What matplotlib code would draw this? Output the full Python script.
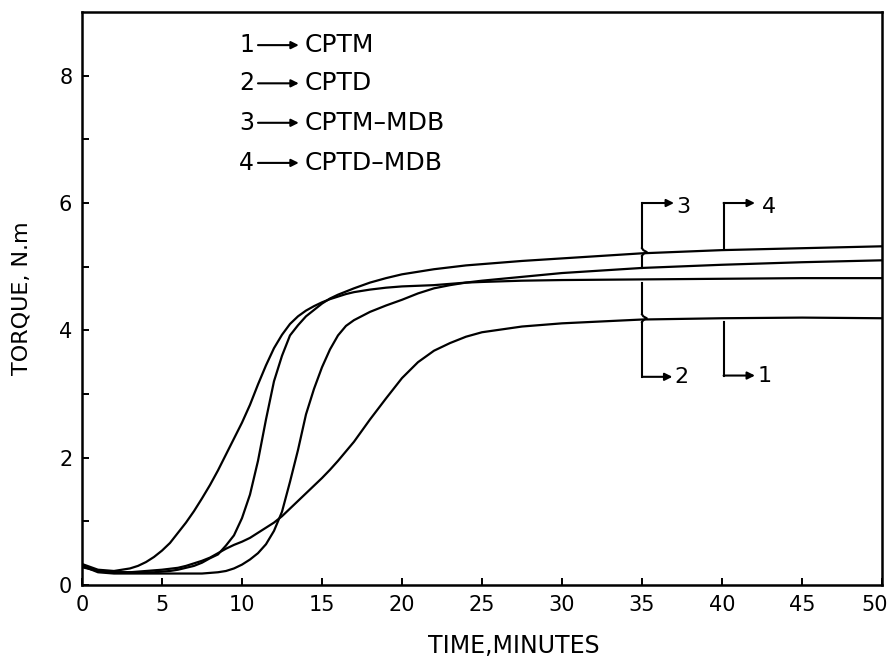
import matplotlib
matplotlib.use("Agg")
import matplotlib.pyplot as plt
import matplotlib.transforms as mtransforms

# time axis shared by all four torque curves (minutes)
time_min = [0, 1, 2, 3, 3.5, 4, 4.5, 5, 5.5, 6, 6.5, 7, 7.5, 8, 8.5, 9, 9.5,
            10, 10.5, 11, 11.5, 12, 12.5, 13, 13.5, 14, 14.5, 15, 15.5, 16,
            16.5, 17, 18, 19, 20, 21, 22, 23, 24, 25, 27.5, 30, 35, 40, 45, 50]

# curve 1 -> CPTM (slowest)
torque_cptm = [0.28, 0.22, 0.20, 0.20, 0.21, 0.22, 0.23, 0.24, 0.255, 0.27, 0.30,
               0.34, 0.38, 0.43, 0.50, 0.57, 0.63, 0.68, 0.74, 0.82, 0.90, 0.98,
               1.08, 1.20, 1.32, 1.44, 1.56, 1.68, 1.81, 1.95, 2.10, 2.25, 2.60,
               2.93, 3.25, 3.50, 3.68, 3.80, 3.90, 3.97, 4.06, 4.11, 4.17, 4.19,
               4.20, 4.19]

# curve 2 -> CPTD (earliest rise, flat plateau)
torque_cptd = [0.33, 0.24, 0.22, 0.26, 0.30, 0.36, 0.44, 0.54, 0.66, 0.82, 0.98,
               1.16, 1.36, 1.57, 1.80, 2.05, 2.30, 2.55, 2.83, 3.15, 3.45, 3.72,
               3.93, 4.10, 4.22, 4.31, 4.38, 4.44, 4.49, 4.53, 4.57, 4.60, 4.64,
               4.67, 4.69, 4.70, 4.71, 4.73, 4.75, 4.76, 4.78, 4.79, 4.80, 4.81,
               4.82, 4.82]

# curve 3 -> CPTM-MDB (long induction, steep rise)
torque_cptm_mdb = [0.30, 0.20, 0.18, 0.18, 0.18, 0.18, 0.18, 0.18, 0.18, 0.18, 0.18,
                   0.18, 0.18, 0.19, 0.20, 0.22, 0.26, 0.32, 0.40, 0.50, 0.64, 0.85,
                   1.15, 1.62, 2.12, 2.68, 3.08, 3.42, 3.70, 3.92, 4.07, 4.16, 4.29,
                   4.39, 4.48, 4.58, 4.66, 4.71, 4.75, 4.78, 4.84, 4.90, 4.98, 5.03,
                   5.07, 5.10]

# curve 4 -> CPTD-MDB (highest plateau)
torque_cptd_mdb = [0.30, 0.22, 0.20, 0.20, 0.20, 0.20, 0.20, 0.21, 0.22, 0.24, 0.27,
                   0.30, 0.35, 0.42, 0.48, 0.62, 0.78, 1.05, 1.42, 1.95, 2.60, 3.20,
                   3.60, 3.92, 4.08, 4.22, 4.32, 4.42, 4.50, 4.56, 4.61, 4.66, 4.75,
                   4.82, 4.88, 4.92, 4.96, 4.99, 5.02, 5.04, 5.09, 5.13, 5.21, 5.26,
                   5.29, 5.32]

legend_numbers = ["1", "2", "3", "4"]
legend_names = ["CPTM", "CPTD", "CPTM\u2013MDB", "CPTD\u2013MDB"]
legend_rows = [8.48, 7.88, 7.26, 6.63]

x_ticks = list(range(0, 51, 5))
y_major = [0, 2, 4, 6, 8]
y_minor = [1, 3, 5, 7]

plt.rcParams["font.family"] = ["DejaVu Sans"]

fig = plt.figure(figsize=(8.93, 6.57), dpi=100)
ax = fig.add_axes([0.0918, 0.1096, 0.8959, 0.8721])

for curve in (torque_cptm, torque_cptd, torque_cptm_mdb, torque_cptd_mdb):
    ax.plot(time_min, curve, color="black", lw=1.6, solid_joinstyle="round")

ax.set_xlim(0, 50)
ax.set_ylim(0, 9)
ax.set_xticks(x_ticks)
ax.set_yticks(y_major)
ax.set_yticks(y_minor, minor=True)
ax.tick_params(which="both", direction="in", length=5, width=1.4,
               labelsize=15, pad=7)
for s in ax.spines.values():
    s.set_linewidth(1.8)

# nudge the last x tick label so it stays inside the figure
last = ax.get_xticklabels()[-1]
last.set_transform(last.get_transform() +
                   mtransforms.ScaledTranslation(-7 / 100, 0, fig.dpi_scale_trans))

ax.set_xlabel("TIME,MINUTES", fontsize=17)
ax.xaxis.set_label_coords(0.54, -0.085)
ax.set_ylabel("TORQUE, N.m", fontsize=16)
ax.yaxis.set_label_coords(-0.063, 0.5)

# legend block in the upper left
arrow_kw = dict(arrowstyle="-|>", mutation_scale=11, lw=1.5, color="black",
                shrinkA=0, shrinkB=0)
for num, name, yr in zip(legend_numbers, legend_names, legend_rows):
    ax.text(10.3, yr, num, fontsize=17, ha="center", va="center")
    ax.annotate("", xy=(13.55, yr), xytext=(11.0, yr), arrowprops=arrow_kw)
    ax.text(13.9, yr, name, fontsize=18, ha="left", va="center")

# bracket callouts identifying the curves
def bracket(x, y_start, y_end, y_kink, y_arrow, label, x_tip):
    up = y_start > y_end
    d = 0.06 if up else -0.06
    ax.plot([x, x], [y_arrow, y_kink + d], color="black", lw=1.5)
    ax.plot([x, x + 0.08, x + 0.3, x + 0.08, x],
            [y_kink + d, y_kink + d / 2, y_kink, y_kink - d / 2, y_kink - d],
            color="black", lw=1.5)
    ax.plot([x, x], [y_kink - d, y_end], color="black", lw=1.5)
    ax.annotate("", xy=(x_tip, y_arrow), xytext=(x, y_arrow), arrowprops=arrow_kw)
    ax.text(x_tip + 0.15, y_arrow - 0.06 if up else y_arrow, label,
            fontsize=16, ha="left", va="center")

bracket(35, 6.0, 4.98, 5.23, 6.0, "3", 37.0)
bracket(35, 3.27, 4.74, 4.19, 3.27, "2", 36.9)
ax.plot([40.1, 40.1], [6.0, 5.29], color="black", lw=1.5)
ax.annotate("", xy=(42.06, 6.0), xytext=(40.1, 6.0), arrowprops=arrow_kw)
ax.text(42.5, 5.94, "4", fontsize=16, ha="left", va="center")
ax.plot([40.1, 40.1], [4.13, 3.29], color="black", lw=1.5)
ax.annotate("", xy=(42.06, 3.29), xytext=(40.1, 3.29), arrowprops=arrow_kw)
ax.text(42.25, 3.29, "1", fontsize=16, ha="left", va="center")

fig.savefig("out.png", dpi=100)
